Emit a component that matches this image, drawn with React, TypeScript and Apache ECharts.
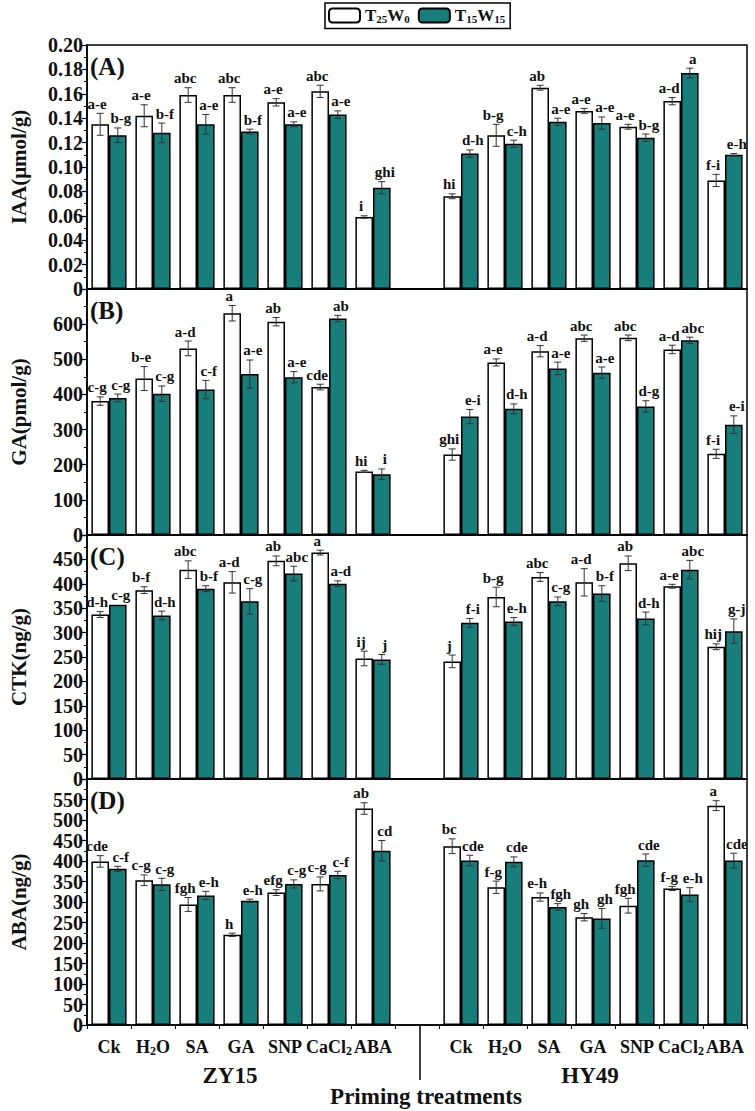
import React, { useEffect, useRef } from 'react';
import * as echarts from 'echarts';

// ---------- data ----------
const treatments = ['Ck', 'H2O', 'SA', 'GA', 'SNP', 'CaCl2', 'ABA'];
const cultivars = ['ZY15', 'HY49'];
const seriesNames = ['T25W0', 'T15W15'];

// (A) IAA (μmol/g): 7 ZY15 then 7 HY49
const iaaWhite = [0.135, 0.142, 0.159, 0.159, 0.153, 0.162, 0.059, 0.076, 0.126, 0.165, 0.146, 0.133, 0.154, 0.089];
const iaaWhiteErr = [0.009, 0.009, 0.006, 0.006, 0.003, 0.005, 0.001, 0.002, 0.009, 0.002, 0.002, 0.002, 0.003, 0.005];
const iaaTeal = [0.126, 0.128, 0.135, 0.129, 0.135, 0.143, 0.083, 0.111, 0.119, 0.137, 0.136, 0.124, 0.177, 0.110];
const iaaTealErr = [0.006, 0.008, 0.008, 0.002, 0.002, 0.003, 0.005, 0.003, 0.003, 0.003, 0.005, 0.003, 0.004, 0.001];
const iaaWhiteSig = ['a-e', 'a-e', 'abc', 'abc', 'a-e', 'abc', 'i', 'hi', 'b-g', 'ab', 'a-e', 'a-e', 'a-d', 'f-i'];
const iaaTealSig = ['b-g', 'b-f', 'a-e', 'b-f', 'a-e', 'a-e', 'ghi', 'd-h', 'c-h', 'a-e', 'a-e', 'b-g', 'a', 'e-h'];

// (B) GA (pmol/g)
const gaWhite = [381, 445, 531, 631, 607, 421, 181, 229, 491, 523, 560, 561, 528, 231];
const gaWhiteErr = [12, 34, 21, 22, 12, 8, 3, 16, 10, 16, 9, 8, 12, 13];
const gaTeal = [390, 402, 414, 458, 449, 616, 173, 337, 359, 474, 462, 366, 554, 314];
const gaTealErr = [11, 22, 26, 40, 16, 9, 15, 20, 14, 18, 16, 16, 9, 25];
const gaWhiteSig = ['c-g', 'b-e', 'a-d', 'a', 'ab', 'cde', 'hi', 'ghi', 'a-e', 'a-d', 'abc', 'abc', 'a-d', 'f-i'];
const gaTealSig = ['c-g', 'c-g', 'c-f', 'a-e', 'a-e', 'ab', 'i', 'e-i', 'd-h', 'a-e', 'a-e', 'd-g', 'abc', 'e-i'];

// (C) CTK (ng/g)
const ctkWhite = [337, 387, 429, 403, 447, 464, 247, 241, 373, 414, 403, 442, 395, 271];
const ctkWhiteErr = [6, 7, 18, 22, 10, 5, 15, 13, 20, 9, 28, 15, 4, 6];
const ctkTeal = [357, 335, 390, 364, 421, 400, 245, 320, 323, 364, 380, 329, 429, 303];
const ctkTealErr = [0, 9, 6, 26, 15, 6, 10, 9, 8, 9, 16, 13, 19, 25];
const ctkWhiteSig = ['d-h', 'b-f', 'abc', 'a-d', 'ab', 'a', 'ij', 'j', 'b-g', 'abc', 'a-d', 'ab', 'a-e', 'hij'];
const ctkTealSig = ['c-g', 'd-h', 'b-f', 'c-g', 'abc', 'a-d', 'j', 'f-i', 'e-h', 'c-g', 'b-f', 'd-h', 'abc', 'g-j'];

// (D) ABA (ng/g)
const abaWhite = [399, 353, 294, 220, 323, 344, 528, 436, 336, 312, 263, 291, 333, 535];
const abaWhiteErr = [14, 13, 17, 4, 7, 17, 14, 18, 15, 10, 9, 18, 5, 12];
const abaTeal = [381, 343, 316, 303, 344, 366, 425, 401, 398, 288, 260, 402, 318, 401];
const abaTealErr = [6, 15, 10, 4, 10, 9, 25, 13, 12, 8, 24, 15, 17, 18];
const abaWhiteSig = ['cde', 'c-g', 'fgh', 'h', 'efg', 'c-g', 'ab', 'bc', 'f-g', 'e-h', 'gh', 'fgh', 'f-g', 'a'];
const abaTealSig = ['c-f', 'c-g', 'e-h', 'e-h', 'c-g', 'c-f', 'cd', 'cde', 'cde', 'fgh', 'gh', 'cde', 'e-h', 'cde'];

// y-axis ranges
const yMax = [0.2, 700, 500, 600];
const yInterval = [0.02, 100, 50, 50];
const yNames = ['IAA(μmol/g)', 'GA(pmol/g)', 'CTK(ng/g)', 'ABA(ng/g)'];
const panelTags = ['(A)', '(B)', '(C)', '(D)'];

// ---------- styles ----------
const FONT = '"Liberation Serif", "Times New Roman", serif';
const TEAL = '#177e7b';
const gridTops = [45, 289, 535, 779];
const gridHeights = [244, 246, 244, 246];
const GRID_LEFT = 86;
const GRID_RIGHT = 8;
const CAT_GAP = 0.2;

const catKeys = [
  ...treatments.map((t) => cultivars[0] + ':' + t),
  'gap',
  ...treatments.map((t) => cultivars[1] + ':' + t),
];

const withGap = (arr: any[]) => [...arr.slice(0, 7), null, ...arr.slice(7)];
const xIndex = (i: number) => (i < 7 ? i : i + 1);

const catLabel = (key: string) => {
  if (key === 'gap') return '';
  const t = key.split(':')[1];
  if (t === 'H2O') return '{n|H}{s|2}{n|O}';
  if (t === 'CaCl2') return '{n|CaCl}{s|2}';
  return '{n|' + t + '}';
};

const panels = [
  { w: iaaWhite, we: iaaWhiteErr, t: iaaTeal, te: iaaTealErr, ws: iaaWhiteSig, ts: iaaTealSig },
  { w: gaWhite, we: gaWhiteErr, t: gaTeal, te: gaTealErr, ws: gaWhiteSig, ts: gaTealSig },
  { w: ctkWhite, we: ctkWhiteErr, t: ctkTeal, te: ctkTealErr, ws: ctkWhiteSig, ts: ctkTealSig },
  { w: abaWhite, we: abaWhiteErr, t: abaTeal, te: abaTealErr, ws: abaWhiteSig, ts: abaTealSig },
];

function errSeries(p: number, vals: number[], errs: number[], sig: string[], side: number) {
  return {
    type: 'custom',
    xAxisIndex: p,
    yAxisIndex: p,
    z: 5,
    silent: true,
    data: vals.map((v, i) => [xIndex(i), v, errs[i]]),
    renderItem: (params: any, api: any) => {
      const xi = api.value(0);
      const v = api.value(1);
      const e = api.value(2);
      const c = api.coord([xi, v]);
      const top = api.coord([xi, v + e]);
      const bot = api.coord([xi, v - e]);
      const band = api.size([1, 0])[0];
      const bw = (band * (1 - CAT_GAP)) / 2;
      const cx = c[0] + side * bw / 2;
      const cap = 3.5;
      const children: any[] = [];
      if (e > 0) {
        const st = { stroke: '#333', lineWidth: 1 };
        children.push({ type: 'line', shape: { x1: cx, y1: top[1], x2: cx, y2: bot[1] }, style: st });
        children.push({ type: 'line', shape: { x1: cx - cap, y1: top[1], x2: cx + cap, y2: top[1] }, style: st });
        children.push({ type: 'line', shape: { x1: cx - cap, y1: bot[1], x2: cx + cap, y2: bot[1] }, style: st });
      }
      children.push({
        type: 'text',
        x: cx + side * 3,
        y: top[1] - 2,
        style: {
          text: sig[params.dataIndex],
          textAlign: 'center',
          textVerticalAlign: 'bottom',
          font: 'bold 15px ' + FONT,
          fill: '#111',
        },
      });
      return { type: 'group', children };
    },
  };
}

export default function App() {
  const ref = useRef<HTMLDivElement>(null);
  useEffect(() => {
    if (!ref.current) return;
    const chart = echarts.init(ref.current, undefined, { renderer: 'svg' });

    const grids = gridTops.map((top, p) => ({
      left: GRID_LEFT,
      right: GRID_RIGHT,
      top,
      height: gridHeights[p],
      show: true,
      borderColor: '#000',
      borderWidth: 1.5,
      backgroundColor: 'transparent',
    }));

    const xAxes = gridTops.map((_, p) => ({
      type: 'category',
      gridIndex: p,
      data: catKeys,
      axisLine: { show: true, lineStyle: { color: '#000', width: 1.5 } },
      axisTick: { show: p === 3, length: 4, interval: 0, lineStyle: { color: '#000', width: 1 } },
      axisLabel: {
        show: p === 3,
        interval: 0,
        margin: 12,
        formatter: catLabel,
        rich: {
          n: { fontFamily: FONT, fontWeight: 'bold', fontSize: 18, color: '#111', lineHeight: 20 },
          s: { fontFamily: FONT, fontWeight: 'bold', fontSize: 12, color: '#111', lineHeight: 11, verticalAlign: 'bottom' },
        },
      },
      splitLine: { show: false },
    }));

    const yAxes = gridTops.map((_, p) => ({
      type: 'value',
      gridIndex: p,
      min: 0,
      max: yMax[p],
      interval: yInterval[p],
      name: yNames[p],
      nameLocation: 'middle',
      nameRotate: 90,
      nameGap: 58,
      nameTextStyle: { fontFamily: FONT, fontWeight: 'bold', fontSize: 21, color: '#111' },
      axisLine: { show: true, lineStyle: { color: '#000', width: 1.5 } },
      axisTick: { show: true, length: 5, lineStyle: { color: '#000', width: 1.2 } },
      minorTick: { show: true, splitNumber: 2, length: 3, lineStyle: { color: '#000', width: 1 } },
      splitLine: { show: false },
      axisLabel: {
        margin: 4,
        fontFamily: FONT,
        fontWeight: 'bold',
        fontSize: 20,
        color: '#111',
        formatter: (v: number) => {
          if (p > 0 && Math.abs(v - yMax[p]) < 1e-9) return '';
          if (v === 0) return '0';
          return p === 0 ? v.toFixed(2) : String(Math.round(v));
        },
      },
    }));

    const series: any[] = [];
    panels.forEach((pd, p) => {
      series.push({
        type: 'bar',
        name: seriesNames[0],
        xAxisIndex: p,
        yAxisIndex: p,
        data: withGap(pd.w),
        barGap: '0%',
        barCategoryGap: CAT_GAP * 100 + '%',
        itemStyle: { color: '#fff', borderColor: '#000', borderWidth: 1.5 },
      });
      series.push({
        type: 'bar',
        name: seriesNames[1],
        xAxisIndex: p,
        yAxisIndex: p,
        data: withGap(pd.t),
        barGap: '0%',
        barCategoryGap: CAT_GAP * 100 + '%',
        itemStyle: { color: TEAL, borderColor: '#000', borderWidth: 1.5 },
      });
      series.push(errSeries(p, pd.w, pd.we, pd.ws, -1));
      series.push(errSeries(p, pd.t, pd.te, pd.ts, 1));
    });

    const legendRich = {
      b: { fontFamily: FONT, fontWeight: 'bold', fontSize: 17, color: '#111', lineHeight: 18 },
      s: { fontFamily: FONT, fontWeight: 'bold', fontSize: 11, color: '#111', lineHeight: 10, verticalAlign: 'bottom' },
    };

    const graphic: any[] = [];
    panelTags.forEach((tag, p) => {
      graphic.push({
        type: 'text',
        left: 90,
        top: gridTops[p] + 9,
        style: { text: tag, font: 'bold 25px ' + FONT, fill: '#111' },
      });
    });
    graphic.push({
      type: 'text', x: 230, y: 1075,
      style: { text: cultivars[0], font: 'bold 23px ' + FONT, fill: '#111', textAlign: 'center', textVerticalAlign: 'middle' },
    });
    graphic.push({
      type: 'text', x: 590, y: 1075,
      style: { text: cultivars[1], font: 'bold 23px ' + FONT, fill: '#111', textAlign: 'center', textVerticalAlign: 'middle' },
    });
    graphic.push({
      type: 'text', x: 426, y: 1096,
      style: { text: 'Priming treatments', font: 'bold 23px ' + FONT, fill: '#111', textAlign: 'center', textVerticalAlign: 'middle' },
    });
    graphic.push({
      type: 'line',
      shape: { x1: 420, y1: 1025, x2: 420, y2: 1080 },
      style: { stroke: '#000', lineWidth: 1.5 },
    });

    chart.setOption({
      animation: false,
      backgroundColor: '#fff',
      grid: grids,
      xAxis: xAxes,
      yAxis: yAxes,
      legend: {
        data: seriesNames,
        left: 325,
        top: 3,
        orient: 'horizontal',
        itemWidth: 31,
        itemHeight: 14,
        itemGap: 8,
        padding: [4, 5, 4, 3],
        borderColor: '#000',
        borderWidth: 1.5,
        selectedMode: false,
        formatter: (name: string) =>
          name === 'T25W0' ? '{b|T}{s|25}{b|W}{s|0}' : '{b|T}{s|15}{b|W}{s|15}',
        textStyle: { rich: legendRich },
      },
      series,
      graphic,
    });

    return () => chart.dispose();
  }, []);

  return (
    <div
      ref={ref}
      style={{ position: 'absolute', left: 0, top: 0, width: 755, height: 1111, background: '#fff' }}
    />
  );
}
